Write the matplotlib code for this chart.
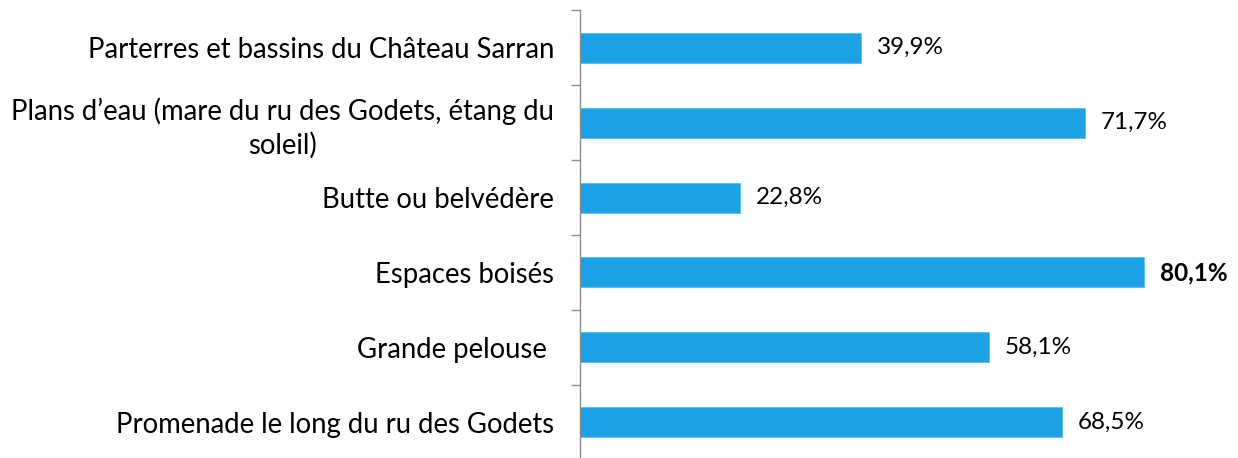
import matplotlib
matplotlib.use("Agg")
import matplotlib.pyplot as plt
import numpy as np

categories = [
    "Parterres et bassins du Château Sarran",
    "Plans d\u2019eau (mare du ru des Godets, étang du\nsoleil)",
    "Butte ou belvédère",
    "Espaces boisés",
    "Grande pelouse ",
    "Promenade le long du ru des Godets",
]
values = [39.9, 71.7, 22.8, 80.1, 58.1, 68.5]
value_labels = ["39,9%", "71,7%", "22,8%", "80,1%", "58,1%", "68,5%"]
bold_flags = [False, False, False, True, False, False]

plt.rcParams['font.family'] = ['Lato', 'DejaVu Sans']

W, H = 1238, 458
fig = plt.figure(figsize=(W / 100, H / 100), dpi=100)
left_px, top_px, bottom_px = 579.6, 10, 460
xmax = 90
px_per_unit = 7.045
width_px = xmax * px_per_unit
ax = fig.add_axes([left_px / W, 1 - bottom_px / H, width_px / W, (bottom_px - top_px) / H])

y = np.arange(len(categories))
ax.barh(y, values, height=0.4, color="#1BA1E6", edgecolor="#5BBCEE", linewidth=0.6)
ax.set_ylim(len(categories) - 0.5, -0.5)
ax.set_xlim(0, xmax)

for yi, v, lab, b in zip(y, values, value_labels, bold_flags):
    ax.annotate(lab, (v, yi), xytext=(11.5, 0), textcoords="offset points",
                ha="left", va="center", fontsize=17.5,
                fontweight="bold" if b else "normal", color="#000000")

for s in ["top", "right", "bottom"]:
    ax.spines[s].set_visible(False)
ax.spines["left"].set_color("#8C8C8C")
ax.spines["left"].set_linewidth(1.0)
ax.set_xticks([])

ax.set_yticks(np.arange(-0.5, len(categories), 1.0))
ax.set_yticklabels([])
ax.tick_params(axis="y", which="major", length=6.5, width=1.0, color="#8C8C8C", direction="out")
ax.set_yticks(y, minor=True)
ax.set_yticklabels(categories, minor=True, fontsize=19.8, color="#000000",
                   multialignment="center", linespacing=1.3)
ax.tick_params(axis="y", which="minor", length=0, pad=18.5)

fig.savefig("out.png", dpi=100)
